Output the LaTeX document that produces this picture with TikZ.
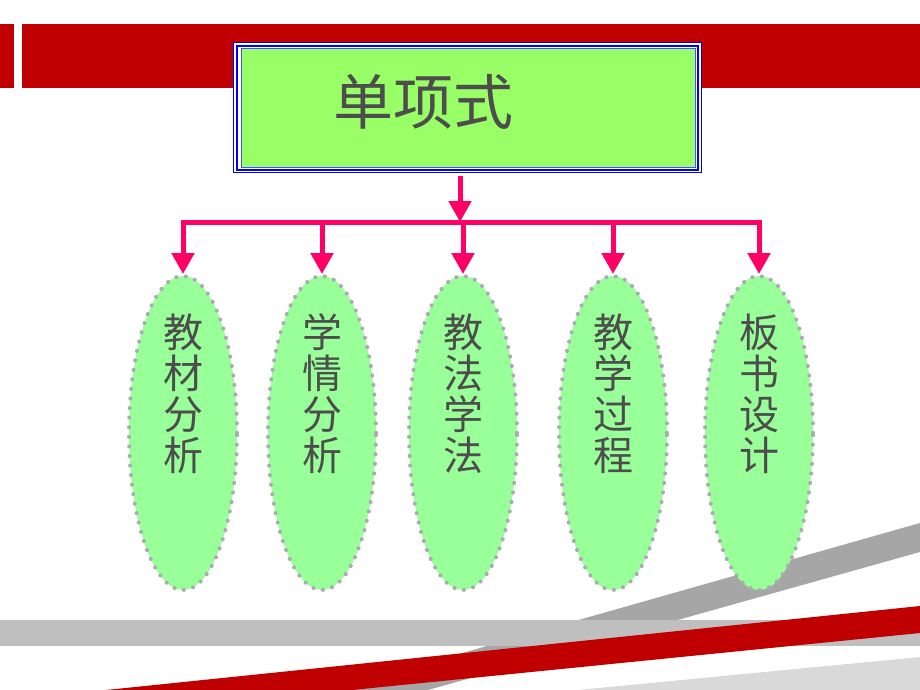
\documentclass[tikz,border=0pt]{standalone}
\usepackage{fontspec}
\newfontfamily\cjk{Noto Sans CJK SC}
\usetikzlibrary{arrows.meta,shapes.geometric}

\definecolor{bandred}{HTML}{C00000}
\definecolor{arrowpink}{HTML}{FF0066}
\definecolor{titlegreen}{HTML}{99FF66}
\definecolor{leafgreen}{HTML}{99FF99}
\definecolor{dotgray}{HTML}{ABABB3}
\definecolor{textgray}{HTML}{4D4D4D}

\begin{document}
\begin{tikzpicture}[x=1pt, y=-1pt,
	leaf/.style={ellipse, fill=leafgreen, draw=dotgray, line width=4pt,
		dash pattern=on 0.2pt off 9.4pt, line cap=round,
		minimum width=108pt, minimum height=314pt, inner sep=0pt},
	leaftext/.style={text=textgray, font=\cjk\fontsize{40}{41}\selectfont,
		align=center, inner sep=0pt},
	feed/.style={draw=arrowpink, line width=5pt, -{Triangle[width=22pt,length=21pt]}}]
	\useasboundingbox (0,0) rectangle (920,690);

% draw top band
	\fill[bandred] (0,24) rectangle (14,88);
	\fill[bandred] (22,24) rectangle (920,88);

% draw bottom stripes
	\fill[black!35] (920,523) -- (920,552) -- (428,690) -- (332,690) -- cycle;
	\fill[black!25] (0,620) rectangle (920,646);
	\fill[bandred] (920,606) -- (920,633) -- (352,690) -- (106,690) -- cycle;
	\fill[black!15] (920,657) -- (920,690) -- (578,690) -- cycle;

% title box with its frames
	\fill[white] (233,42) rectangle (702,173);
	\draw[blue, line width=1pt] (233.5,42.5) rectangle (701.5,172.5);
	\draw[blue, line width=2.5pt] (237,46) rectangle (698,170);
	\node[fill=titlegreen, draw=blue!70, line width=1pt, inner sep=0pt,
		minimum width=454pt, minimum height=118pt] (title) at (468,108) {};
	\node[text=textgray, font=\cjk\fontsize{60}{60}\selectfont, inner sep=0pt]
		(titletext) at (423,102) {单项式};

% five leaves
	\foreach \i/\x in {1/183, 2/322, 3/463, 4/613, 5/759}
		\node[leaf] (e\i) at (\x,433) {};
	\node[leaftext] (t1) at ([yshift=39pt]e1.center) {教\\材\\分\\析};
	\node[leaftext] (t2) at ([yshift=39pt]e2.center) {学\\情\\分\\析};
	\node[leaftext] (t3) at ([yshift=39pt]e3.center) {教\\法\\学\\法};
	\node[leaftext] (t4) at ([yshift=39pt]e4.center) {教\\学\\过\\程};
	\node[leaftext] (t5) at ([yshift=39pt]e5.center) {板\\书\\设\\计};

% arrows
	\coordinate (stemtop) at (460,176);
	\coordinate (bus) at (460,222);
	\draw[arrowpink, line width=5pt, line cap=rect] (e1.north |- bus) -- (e5.north |- bus);
	\draw[feed] (stemtop) -- (bus);
	\foreach \i in {1,...,5}
		\draw[feed] (e\i.north |- bus) -- (e\i.north);

\end{tikzpicture}
\end{document}
